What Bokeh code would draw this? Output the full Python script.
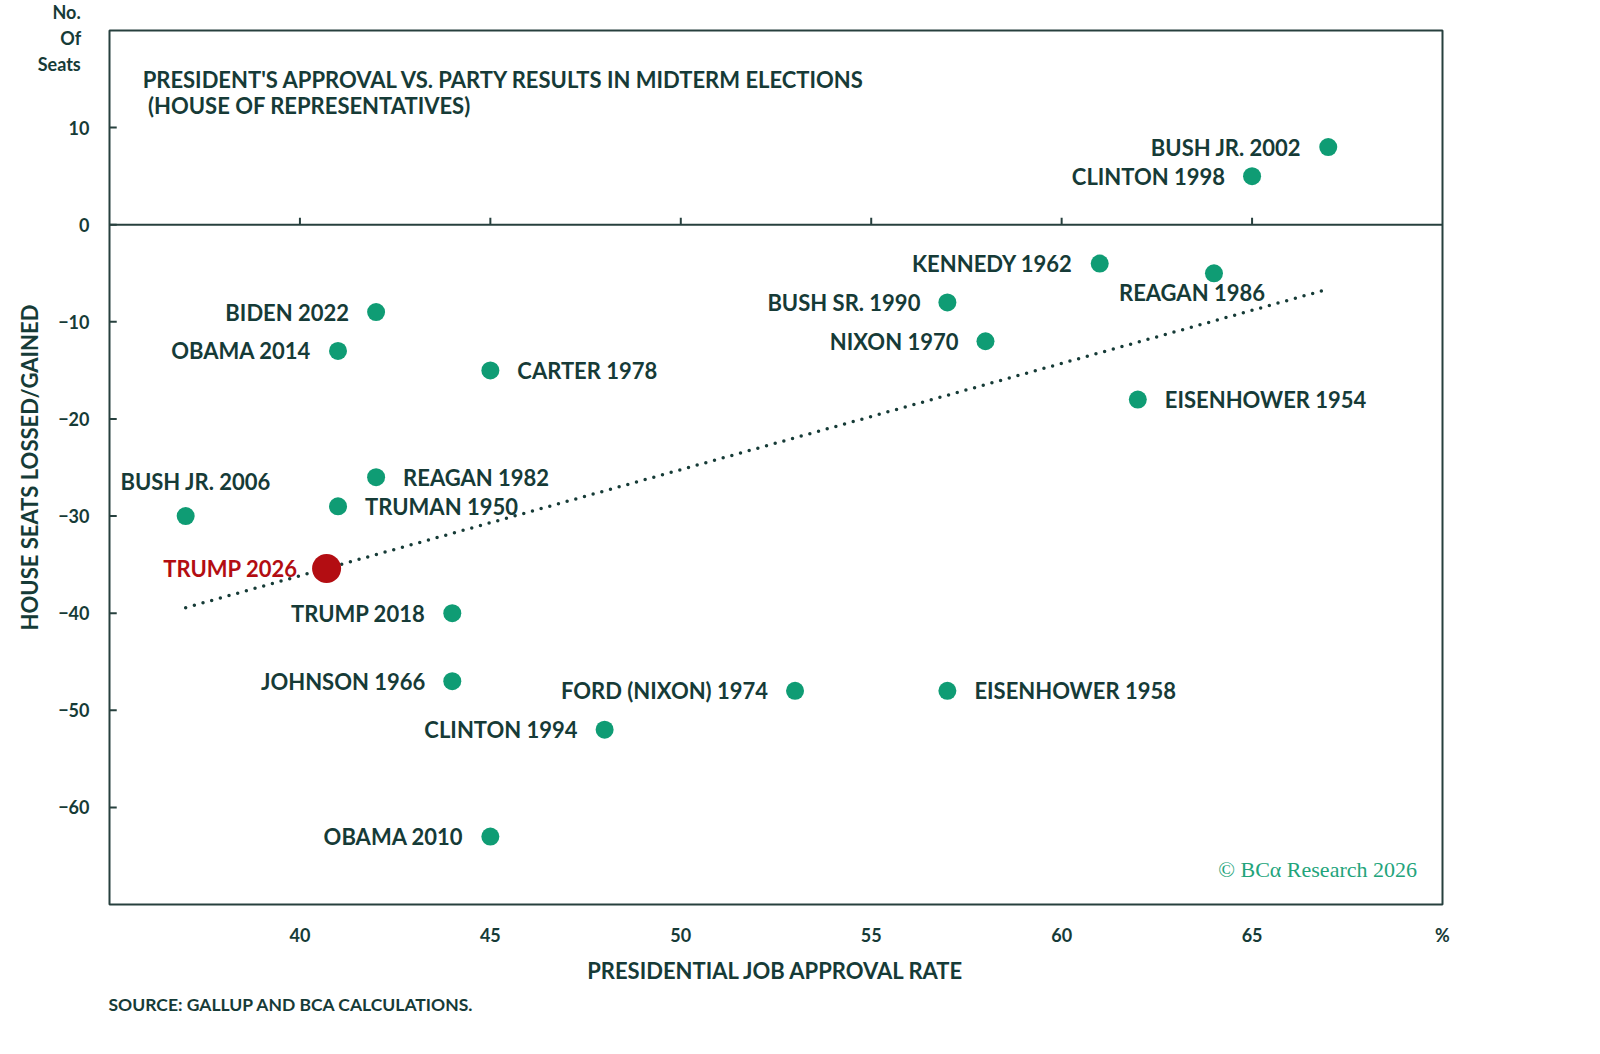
from bokeh.plotting import figure
from bokeh.models import ColumnDataSource, Range1d, Span, Label, FixedTicker, Title
from bokeh.core.properties import value
from bokeh.embed import file_html
from bokeh.resources import INLINE
import numpy as np

# midterm results: president, approval (%), house seats lost/gained
names = ["BUSH JR. 2002", "CLINTON 1998", "KENNEDY 1962", "REAGAN 1986", "BUSH SR. 1990",
         "NIXON 1970", "EISENHOWER 1954", "BIDEN 2022", "OBAMA 2014", "CARTER 1978",
         "REAGAN 1982", "TRUMAN 1950", "BUSH JR. 2006", "TRUMP 2018", "JOHNSON 1966",
         "FORD (NIXON) 1974", "EISENHOWER 1958", "CLINTON 1994", "OBAMA 2010"]
approval = [67, 65, 61, 64, 57, 58, 62, 42, 41, 45, 42, 41, 37, 44, 44, 53, 57, 48, 45]
seats = [8, 5, -4, -5, -8, -12, -18, -9, -13, -15, -26, -29, -30, -40, -47, -48, -48, -52, -63]

trump_name = "TRUMP 2026"
trump_approval = 40.7
trump_seats = -35.4

x_ticks = [40, 45, 50, 55, 60, 65]
y_ticks = [-60, -50, -40, -30, -20, -10, 0, 10]
x_unit_tick = 70      # "%" sits where the x axis ends
y_unit_tick = 19.55   # "No. Of Seats" sits at the top of the y axis

DARK = "#163b37"
FRAME = "#27403e"
GREEN = "#0f9c74"
RED = "#b30d12"
FONT = "Lato"
NB = "\u00a0"

# where each label sits relative to its dot
right_side = {"EISENHOWER 1954", "CARTER 1978", "REAGAN 1982", "TRUMAN 1950", "EISENHOWER 1958"}
aligns, xoffs, yoffs = [], [], []
for n in names:
    if n == "REAGAN 1986":
        aligns.append("center"); xoffs.append(-22); yoffs.append(19)
    elif n == "BUSH JR. 2006":
        aligns.append("center"); xoffs.append(10); yoffs.append(-35)
    elif n in right_side:
        aligns.append("left"); xoffs.append(27); yoffs.append(0)
    else:
        aligns.append("right"); xoffs.append(-27); yoffs.append(0)

src = ColumnDataSource(dict(x=approval, y=seats, name=names, align=aligns, xo=xoffs, yo=yoffs))

p = figure(frame_width=1333, frame_height=874, x_range=Range1d(35, 70), y_range=Range1d(-70, 20),
           output_backend="svg", toolbar_location=None,
           min_border_left=109, min_border_top=30, min_border_right=120, min_border_bottom=110)
p.grid.visible = False
p.outline_line_color = FRAME
p.outline_line_width = 2
p.background_fill_color = "white"
p.border_fill_color = "white"

for ax in (p.xaxis, p.yaxis):
    ax.major_label_text_font = FONT
    ax.major_label_text_font_style = "bold"
    ax.major_label_text_font_size = "18px"
    ax.major_label_text_color = DARK
    ax.axis_label_text_font = FONT
    ax.axis_label_text_font_style = "bold"
    ax.axis_label_text_font_size = "22px"
    ax.axis_label_text_color = DARK
    ax.minor_tick_line_color = None
    ax.major_tick_line_color = None
    ax.major_tick_in = 0
    ax.major_tick_out = 0
    ax.axis_line_color = None

p.xaxis.ticker = FixedTicker(ticks=x_ticks + [x_unit_tick])
p.xaxis.major_label_overrides = {x_unit_tick: "%"}
p.xaxis.major_label_standoff = 19
p.xaxis.axis_label = "PRESIDENTIAL JOB APPROVAL RATE"
p.xaxis.axis_label_standoff = 8

p.yaxis.ticker = FixedTicker(ticks=y_ticks + [y_unit_tick])
p.yaxis.major_label_overrides = {y_unit_tick: "No." + NB * 2 + "\nOf" + NB * 2 + "\nSeats" + NB * 2}
p.yaxis.major_label_text_line_height = 1.2
p.yaxis.major_label_standoff = 20
p.yaxis.axis_label = "HOUSE SEATS LOSSED/GAINED"
p.yaxis.axis_label_standoff = -8

# zero line with the x ticks sitting on it, y ticks pointing into the frame
p.add_layout(Span(location=0, dimension="width", line_color=FRAME, line_width=2))
p.segment(x0=x_ticks, y0=[0] * len(x_ticks), x1=x_ticks, y1=[0.72] * len(x_ticks),
          line_color=FRAME, line_width=2)
p.segment(x0=[35] * len(y_ticks), y0=y_ticks, x1=[35.19] * len(y_ticks), y1=y_ticks,
          line_color=FRAME, line_width=2)

# trend line through historical midterms
slope, icpt = np.polyfit(approval, seats, 1)
xs = [min(approval), max(approval)]
p.line(xs, [slope * v + icpt for v in xs], line_color=DARK, line_width=3.5,
       line_dash="0 9", line_cap="round")

p.scatter("x", "y", source=src, size=18, fill_color=GREEN, line_color=None)
p.text("x", "y", text="name", source=src, text_align="align", x_offset="xo", y_offset="yo",
       text_baseline="middle", text_font=value(FONT), text_font_style="bold",
       text_font_size="22px", text_color=DARK)

p.scatter([trump_approval], [trump_seats], size=29, fill_color=RED, line_color=None)
p.text([trump_approval], [trump_seats], text=[trump_name], text_align="right", x_offset=-29,
       y_offset=0, text_baseline="middle", text_font=value(FONT), text_font_style="bold",
       text_font_size="22px", text_color=RED)

p.add_layout(Label(x=35.87, y=13.63,
                   text="PRESIDENT'S APPROVAL VS. PARTY RESULTS IN MIDTERM ELECTIONS\n" + NB + "(HOUSE OF REPRESENTATIVES)",
                   text_align="left", text_baseline="middle", text_font=FONT, text_font_style="bold",
                   text_font_size="22px", text_color=DARK, text_line_height=0.95))
p.add_layout(Label(x=69.33, y=-66.36, text="\u00a9 BC\u03b1 Research 2026", text_align="right",
                   text_baseline="middle", text_font="Liberation Serif", text_font_size="22px",
                   text_color="#22a47b"))

p.add_layout(Title(text="SOURCE: GALLUP AND BCA CALCULATIONS.", align="left", offset=-1,
                   text_font=FONT, text_font_style="bold", text_font_size="17.5px",
                   text_color=DARK, standoff=10), "below")

open("out.html", "w").write(file_html(p, INLINE))
